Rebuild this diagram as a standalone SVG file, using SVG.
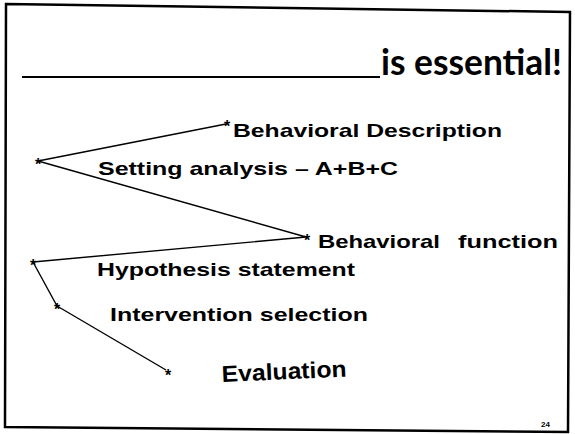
<svg xmlns="http://www.w3.org/2000/svg" width="575" height="434" viewBox="0 0 575 434">
<style>
.lbl{font-family:"Liberation Sans",Arial,sans-serif;font-weight:bold;font-size:19px;fill:#000}
.star{font-family:"Liberation Sans",Arial,sans-serif;font-weight:bold;font-size:16px;fill:#000;text-anchor:middle}
.title{font-family:Lato,"Open Sans",sans-serif;font-weight:bold;font-size:37px;fill:#000}
.conn{fill:none;stroke:#000;stroke-width:1.4;stroke-linejoin:round}
</style>
<rect width="575" height="434" fill="#fff"/>
<polygon points="6,4 570,12 568,432 5,427" fill="none" stroke="#000" stroke-width="2.5"/>
<g id="title">
<line x1="22" y1="77" x2="380" y2="77" stroke="#000" stroke-width="2.2"/>
<text class="title" x="381" y="75" textLength="181" lengthAdjust="spacingAndGlyphs">is essential!</text>
</g>
<g id="connectors">
<polyline class="conn" points="226,124 38,161 306,237 33,262 57,306 166,370"/>
</g>
<g id="behavioral-description">
<text class="star" x="227" y="132">*</text>
<text class="lbl" x="233" y="137" textLength="269" lengthAdjust="spacingAndGlyphs">Behavioral Description</text>
</g>
<g id="setting-analysis">
<text class="star" x="38" y="170">*</text>
<text class="lbl" x="98" y="175" textLength="300" lengthAdjust="spacingAndGlyphs">Setting analysis – A+B+C</text>
</g>
<g id="behavioral-function">
<text class="star" x="307" y="246">*</text>
<text class="lbl" x="318" y="248"><tspan x="318" textLength="122" lengthAdjust="spacingAndGlyphs">Behavioral</tspan><tspan x="458" textLength="100" lengthAdjust="spacingAndGlyphs">function</tspan></text>
</g>
<g id="hypothesis-statement">
<text class="star" x="33" y="271">*</text>
<text class="lbl" x="97" y="276" textLength="258" lengthAdjust="spacingAndGlyphs">Hypothesis statement</text>
</g>
<g id="intervention-selection">
<text class="star" x="57" y="315">*</text>
<text class="lbl" x="110" y="321" textLength="258" lengthAdjust="spacingAndGlyphs">Intervention selection</text>
</g>
<g id="evaluation">
<text class="star" x="168" y="381">*</text>
<text class="lbl" x="222" y="382" style="font-size:23px" textLength="125" lengthAdjust="spacingAndGlyphs" transform="rotate(-2.5 222 382)">Evaluation</text>
</g>
<text x="541" y="427" style="font-family:'Liberation Sans',Arial,sans-serif;font-weight:bold;font-size:8px">24</text>
</svg>
